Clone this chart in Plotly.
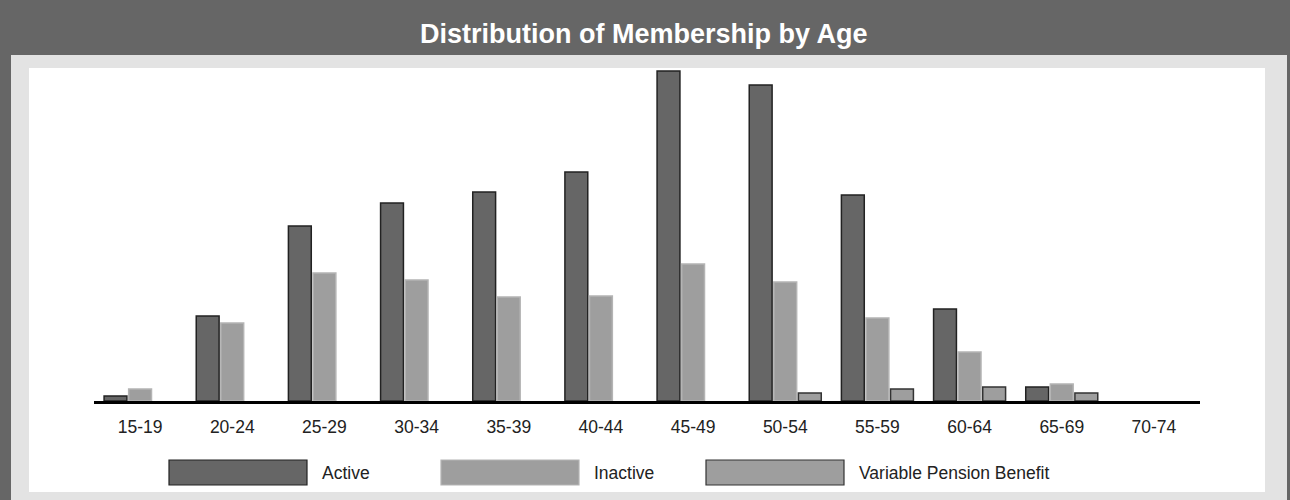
import plotly.graph_objects as go

age_groups = ["15-19", "20-24", "25-29", "30-34", "35-39", "40-44",
              "45-49", "50-54", "55-59", "60-64", "65-69", "70-74"]
active = [50, 850, 1750, 1980, 2090, 2290, 3300, 3160, 2060, 920, 140, 0]
inactive = [120, 780, 1280, 1210, 1040, 1050, 1370, 1190, 830, 490, 170, 0]
vpb = [0, 0, 0, 0, 0, 0, 0, 80, 120, 140, 80, 0]
series_names = ["Active", "Inactive", "Variable Pension Benefit"]
title_text = "Distribution of Membership by Age"

W, H = 1290, 500
PL, PR, PT, PB = 94, 1200, 68, 401  # plot area pixels


def px(x):
    return (x - PL) / (PR - PL)


def py(y):
    return (PB - y) / (PB - PT)


FONT = "Liberation Sans, Arial, Helvetica, sans-serif"
fills = ["#666666", "#9e9e9e", "#9e9e9e"]
lines = ["#222222", "#b4b4b4", "#333333"]

fig = go.Figure()
for name, vals, fc, lc in zip(series_names, [active, inactive, vpb], fills, lines):
    lw = [1.5 if v > 0 else 0 for v in vals]
    fig.add_trace(go.Bar(x=age_groups, y=vals, name=name,
                         marker=dict(color=fc, line=dict(color=lc, width=lw)),
                         showlegend=False))

shapes = [
    dict(type="rect", xref="paper", yref="paper", x0=px(11), x1=px(1287), y0=py(500), y1=py(55),
         fillcolor="#e3e3e3", line=dict(width=0), layer="below"),
    dict(type="rect", xref="paper", yref="paper", x0=px(29), x1=px(1265), y0=py(492), y1=py(68),
         fillcolor="#ffffff", line=dict(width=0), layer="below"),
]

annotations = [
    dict(text=title_text, xref="paper", yref="paper", x=px(644), y=py(34),
         xanchor="center", yanchor="middle", showarrow=False,
         font=dict(family=FONT, size=27, color="#ffffff", weight="bold")),
]

leg_x = [169, 441, 706]
for i, (name, fc, lc) in enumerate(zip(series_names, fills, lines)):
    x0 = leg_x[i]
    shapes.append(dict(type="rect", xref="paper", yref="paper",
                       x0=px(x0), x1=px(x0 + 138), y0=py(485), y1=py(460),
                       fillcolor=fc, line=dict(color=lc, width=1.2), layer="above"))
    annotations.append(dict(text=name, xref="paper", yref="paper", x=px(x0 + 151), y=py(473),
                            xanchor="left", yanchor="middle", showarrow=False,
                            font=dict(family=FONT, size=17.5, color="#222222")))

fig.update_layout(
    width=W, height=H,
    margin=dict(l=PL, r=W - PR, t=PT, b=H - PB, pad=0),
    paper_bgcolor="#666666",
    plot_bgcolor="rgba(0,0,0,0)",
    barmode="group",
    bargap=0.2,
    bargroupgap=0.07,
    shapes=shapes,
    annotations=annotations,
    xaxis=dict(showline=True, linecolor="#000000", linewidth=3, showgrid=False,
               ticks="", ticklabelstandoff=8,
               tickfont=dict(family=FONT, size=17.5, color="#222222"),
               fixedrange=True),
    yaxis=dict(range=[0, 3330], visible=False, showgrid=False, zeroline=False, fixedrange=True),
)

fig.write_html("out.html")
